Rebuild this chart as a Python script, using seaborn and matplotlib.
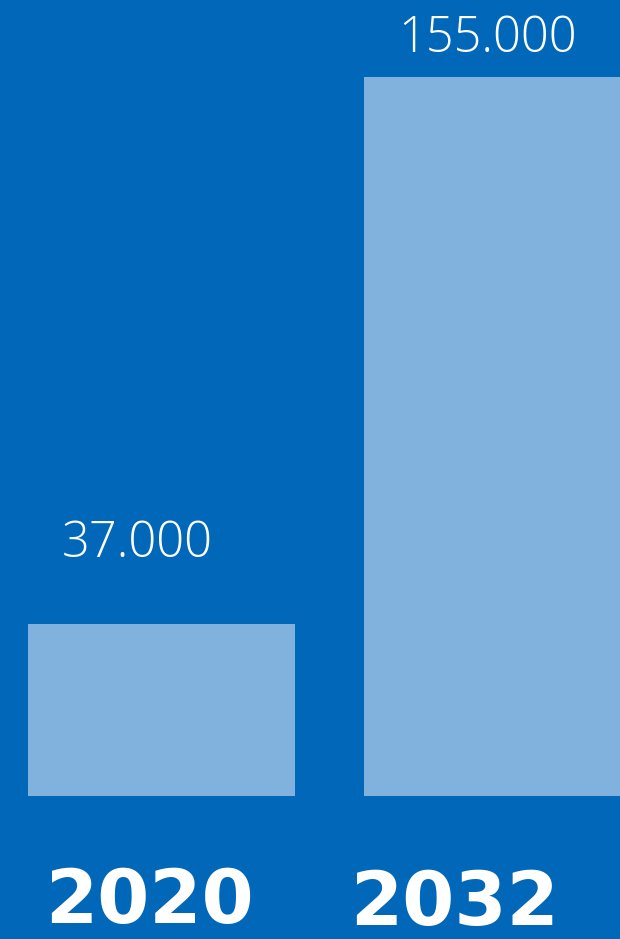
import matplotlib
matplotlib.use("Agg")
import matplotlib.pyplot as plt
import matplotlib.transforms as mtransforms
import seaborn as sns
import pandas as pd

years = ["2020", "2032"]
values = [37000, 155000]
value_labels = ["37.000", "155.000"]

bg = "#0067b9"
bar_col = "#80b2dd"

sns.set_style("white")
fig = plt.figure(figsize=(6.2, 9.39), dpi=100)
fig.patch.set_facecolor(bg)
ax = fig.add_axes([0, 0, 1, 1])
ax.set_facecolor(bg)

df = pd.DataFrame({"year": years, "value": values})
sns.barplot(data=df, x="year", y="value", order=years, color=bar_col,
            saturation=1, width=0.795, linewidth=0, edgecolor=bar_col, ax=ax)

ax.set_xlim(-0.4807, 1.3646)
ax.set_ylim(-30840, 171660)
ax.set_axis_off()

# value labels above bars (offset in pixels)
offsets = [(-24, 80), (-10, 38)]
for i, (v, lab) in enumerate(zip(values, value_labels)):
    ax.annotate(lab, xy=(i, v), xytext=offsets[i], textcoords="offset pixels",
                ha="center", va="center", color="white", fontsize=35,
                family=["Open Sans", "DejaVu Sans"], fontweight="light")

# year labels at bottom
trans = mtransforms.blended_transform_factory(ax.transData, ax.transAxes)
year_x = [149.5 / 336 - 0.4807, 454.5 / 336 - 0.4807]
year_y = [1 - 902 / 939, 1 - 904 / 939]
for x, y, yr in zip(year_x, year_y, years):
    ax.text(x, y, yr, transform=trans, ha="center", va="center",
            color="white", fontsize=54, fontweight="heavy",
            family=["DejaVu Sans"])

fig.savefig("out.png", dpi=100, facecolor=bg)
